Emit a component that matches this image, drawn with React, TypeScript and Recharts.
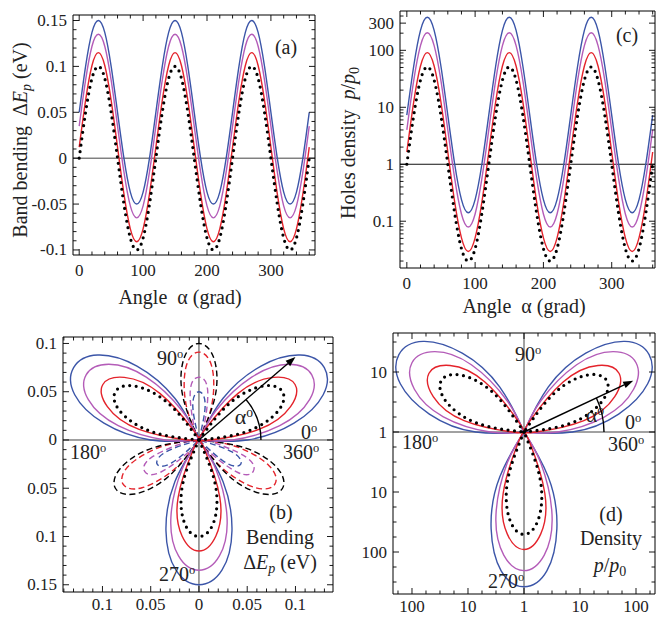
import React from 'react';
import { LineChart, Line, XAxis, YAxis, ReferenceLine } from 'recharts';

// angle alpha in degrees, sampled every 10
const angles = [
  0, 10, 20, 30, 40, 50, 60, 70, 80, 90, 100, 110, 120, 130, 140, 150, 160, 170, 180,
  190, 200, 210, 220, 230, 240, 250, 260, 270, 280, 290, 300, 310, 320, 330, 340, 350, 360,
];

// band bending dEp (eV), panels (a) and (b)
const bendBlue = [
  0.05, 0.1, 0.137, 0.15, 0.137, 0.1, 0.05, 0, -0.037, -0.05, -0.037, 0,
  0.05, 0.1, 0.137, 0.15, 0.137, 0.1, 0.05, 0, -0.037, -0.05, -0.037, 0,
  0.05, 0.1, 0.137, 0.15, 0.137, 0.1, 0.05, 0, -0.037, -0.05, -0.037, 0,
  0.05,
];
const bendMagenta = [
  0.035, 0.085, 0.122, 0.135, 0.122, 0.085, 0.035, -0.015, -0.052, -0.065, -0.052, -0.015,
  0.035, 0.085, 0.122, 0.135, 0.122, 0.085, 0.035, -0.015, -0.052, -0.065, -0.052, -0.015,
  0.035, 0.085, 0.122, 0.135, 0.122, 0.085, 0.035, -0.015, -0.052, -0.065, -0.052, -0.015,
  0.035,
];
const bendRed = [
  0.012, 0.063, 0.101, 0.115, 0.101, 0.063, 0.012, -0.039, -0.077, -0.091, -0.077, -0.039,
  0.012, 0.063, 0.101, 0.115, 0.101, 0.063, 0.012, -0.039, -0.077, -0.091, -0.077, -0.039,
  0.012, 0.063, 0.101, 0.115, 0.101, 0.063, 0.012, -0.039, -0.077, -0.091, -0.077, -0.039,
  0.012,
];
const bendBlack = [
  0, 0.05, 0.087, 0.1, 0.087, 0.05, 0, -0.05, -0.087, -0.1, -0.087, -0.05,
  0, 0.05, 0.087, 0.1, 0.087, 0.05, 0, -0.05, -0.087, -0.1, -0.087, -0.05,
  0, 0.05, 0.087, 0.1, 0.087, 0.05, 0, -0.05, -0.087, -0.1, -0.087, -0.05,
  0,
];

// holes density p/p0, panels (c) and (d)
const densBlue = [
  7.3, 52, 224, 380, 224, 52, 7.3, 1.02, 0.24, 0.141, 0.24, 1.02,
  7.3, 52, 224, 380, 224, 52, 7.3, 1.02, 0.24, 0.141, 0.24, 1.02,
  7.3, 52, 224, 380, 224, 52, 7.3, 1.02, 0.24, 0.141, 0.24, 1.02,
  7.3,
];
const densMagenta = [
  4, 29, 121, 204, 121, 29, 4, 0.57, 0.134, 0.079, 0.134, 0.57,
  4, 29, 121, 204, 121, 29, 4, 0.57, 0.134, 0.079, 0.134, 0.57,
  4, 29, 121, 204, 121, 29, 4, 0.57, 0.134, 0.079, 0.134, 0.57,
  4,
];
const densRed = [
  1.64, 12.2, 53, 91, 53, 12.2, 1.64, 0.22, 0.051, 0.0295, 0.051, 0.22,
  1.64, 12.2, 53, 91, 53, 12.2, 1.64, 0.22, 0.051, 0.0295, 0.051, 0.22,
  1.64, 12.2, 53, 91, 53, 12.2, 1.64, 0.22, 0.051, 0.0295, 0.051, 0.22,
  1.64,
];
const densBlack = [
  1, 7.1, 30, 51, 30, 7.1, 1, 0.14, 0.033, 0.02, 0.033, 0.14,
  1, 7.1, 30, 51, 30, 7.1, 1, 0.14, 0.033, 0.02, 0.033, 0.14,
  1, 7.1, 30, 51, 30, 7.1, 1, 0.14, 0.033, 0.02, 0.033, 0.14,
  1,
];

// labelled ticks
const angleTicks = [0, 100, 200, 300];
const bendTicks = [-0.1, -0.05, 0, 0.05, 0.1, 0.15];
const densTicks = [0.1, 1, 10, 100, 300];
const polarBendTicksX = [-0.1, -0.05, 0, 0.05, 0.1];
const polarBendTicksY = [-0.15, -0.1, -0.05, 0, 0.05, 0.1];
const polarDensTicksX = [-2, -1, 0, 1, 2];
const polarDensTicksY = [-2, -1, 0, 1];

const BLUE = '#3b55a8';
const MAGENTA = '#b45cb8';
const RED = '#e4232b';
const FONT = '"Liberation Serif", "Times New Roman", serif';
const INK = '#222';

const series = [
  { key: 'blue', color: BLUE, bend: bendBlue, dens: densBlue },
  { key: 'magenta', color: MAGENTA, bend: bendMagenta, dens: densMagenta },
  { key: 'red', color: RED, bend: bendRed, dens: densRed },
  { key: 'black', color: '#000', bend: bendBlack, dens: densBlack },
];

const range = (from: number, to: number, step: number) => {
  const out: number[] = [];
  for (let v = from; v <= to + 1e-9; v += step) out.push(Math.round(v * 1e6) / 1e6);
  return out;
};

const logTicks: number[] = [];
for (let k = -2; k <= 2; k++) {
  for (let m = 1; m <= 9; m++) {
    const v = Number((m * 10 ** k).toPrecision(3));
    if (v >= 0.015 && v <= 490) logTicks.push(v);
  }
}

const bendRows = angles.map((a, i) => ({
  a,
  blue: bendBlue[i],
  magenta: bendMagenta[i],
  red: bendRed[i],
  black: bendBlack[i],
}));
const densRows = angles.map((a, i) => ({
  a,
  blue: densBlue[i],
  magenta: densMagenta[i],
  red: densRed[i],
  black: densBlack[i],
}));

type Pt = { x: number; y: number };
type Seg = { neg: boolean | null; pts: Pt[] };

// split a closed curve r(alpha) into lobes of one sign, drawn as |r| in polar form
const polarSegments = (values: number[]): Seg[] => {
  const segs: Seg[] = [];
  let cur: Seg | null = null;
  values.forEach((v, i) => {
    const a = (angles[i] * Math.PI) / 180;
    const r = Math.abs(v);
    const pt = { x: r * Math.cos(a), y: r * Math.sin(a) };
    if (Math.abs(v) < 1e-12) {
      if (cur) cur.pts.push(pt);
      cur = { neg: null, pts: [pt] };
      return;
    }
    const neg = v < 0;
    if (cur && cur.neg === null) {
      cur.neg = neg;
      segs.push(cur);
    } else if (!cur) {
      cur = { neg, pts: [] };
      segs.push(cur);
    } else if (cur.neg !== neg) {
      cur.pts.push({ x: 0, y: 0 });
      cur = { neg, pts: [{ x: 0, y: 0 }] };
      segs.push(cur);
    }
    cur.pts.push(pt);
  });
  // join the lobe that runs through 360/0
  if (segs.length > 1 && Math.abs(values[0]) > 1e-12) {
    const first = segs[0];
    const last = segs[segs.length - 1];
    if (first.neg === last.neg) {
      last.pts = last.pts.concat(first.pts.slice(1));
      segs.shift();
    }
  }
  return segs;
};

const near = (list: number[], v: number) => list.some((m) => Math.abs(m - v) < 1e-9);

type Side = 'bottom' | 'top' | 'left' | 'right';
const frameTick =
  (side: Side, majors: number[], fmt?: (v: number) => string, gap = 21) =>
  (props: any) => {
    const { x, y, payload } = props;
    const v = payload.value;
    const major = near(majors, v);
    const len = major ? 6 : 3.5;
    const s = { stroke: '#000', strokeWidth: 0.9 };
    const label = (tx: number, ty: number, anchor: 'middle' | 'end') =>
      major && fmt ? (
        <text x={tx} y={ty} textAnchor={anchor} fontSize={17} fontFamily={FONT} fill={INK}>
          {fmt(v)}
        </text>
      ) : null;
    if (side === 'bottom')
      return (
        <g>
          <line x1={x} y1={y} x2={x} y2={y - len} {...s} />
          {label(x, y + gap, 'middle')}
        </g>
      );
    if (side === 'top')
      return (
        <g>
          <line x1={x} y1={y} x2={x} y2={y + len} {...s} />
        </g>
      );
    if (side === 'left')
      return (
        <g>
          <line x1={x} y1={y} x2={x + len} y2={y} {...s} />
          {label(x - 6, y + 5.5, 'end')}
        </g>
      );
    return (
      <g>
        <line x1={x} y1={y} x2={x - len} y2={y} {...s} />
      </g>
    );
  };

// axes get a 1px box (a 0px box is not drawn by recharts)
const axisBase = {
  type: 'number' as const,
  interval: 0 as const,
  tickLine: false,
  tickSize: 0,
  tickMargin: 0,
  allowDataOverflow: true,
  axisLine: { stroke: '#000', strokeWidth: 1 },
};

const arrowShape = (arcR: number) => (p: any) => {
  const { x1, y1, x2, y2 } = p;
  const ang = Math.atan2(y1 - y2, x2 - x1);
  const ux = Math.cos(ang);
  const uy = -Math.sin(ang);
  const head = 10;
  const half = 3.5;
  const bx = x2 - ux * head;
  const by = y2 - uy * head;
  const px = -uy;
  const py = ux;
  return (
    <g>
      <line x1={x1} y1={y1} x2={bx} y2={by} stroke="#000" strokeWidth={1.4} />
      <polygon
        points={`${x2},${y2} ${bx + px * half},${by + py * half} ${bx - px * half},${by - py * half}`}
        fill="#000"
      />
      <path
        d={`M ${x1 + arcR} ${y1} A ${arcR} ${arcR} 0 0 0 ${x1 + arcR * Math.cos(ang)} ${y1 - arcR * Math.sin(ang)}`}
        fill="none"
        stroke="#000"
        strokeWidth={1.4}
      />
    </g>
  );
};

const lineStyle = (color: string, dashed = false) =>
  color === '#000'
    ? { stroke: '#000', strokeWidth: dashed ? 1.4 : 3.2, strokeDasharray: dashed ? '6 3.5' : '0 6.5', strokeLinecap: dashed ? ('butt' as const) : ('round' as const) }
    : { stroke: color, strokeWidth: 1.4, strokeDasharray: dashed ? '6 3.5' : undefined };

const Deg = () => (
  <span style={{ fontSize: '0.62em', position: 'relative', top: '-0.55em' }}>o</span>
);
const Sub = ({ children }: { children: React.ReactNode }) => (
  <span style={{ fontSize: '0.7em', position: 'relative', top: '0.3em' }}>{children}</span>
);

const Note = ({
  x,
  y,
  size = 20,
  rotate,
  children,
}: {
  x: number;
  y: number;
  size?: number;
  rotate?: number;
  children: React.ReactNode;
}) => (
  <div
    style={{
      position: 'absolute',
      left: x,
      top: y,
      transform: `translate(-50%, -50%)${rotate ? ` rotate(${rotate}deg)` : ''}`,
      fontFamily: FONT,
      fontSize: size,
      lineHeight: 1,
      whiteSpace: 'pre',
      color: INK,
    }}
  >
    {children}
  </div>
);

const pos = (left: number, top: number): React.CSSProperties => ({ position: 'absolute', left, top });

const BendPanel = () => (
  <div style={pos(0, 0)}>
    <LineChart width={330} height={320} data={bendRows} margin={{ top: 14, right: 14, bottom: 64, left: 72 }}>
      <XAxis {...axisBase} xAxisId="b" dataKey="a" domain={[-9.7, 369]} height={1} ticks={range(0, 360, 20)} tick={frameTick('bottom', angleTicks, (v) => String(v))} />
      <XAxis {...axisBase} xAxisId="t" orientation="top" dataKey="a" domain={[-9.7, 369]} height={1} ticks={range(0, 360, 20)} tick={frameTick('top', angleTicks)} />
      <YAxis {...axisBase} yAxisId="l" domain={[-0.1055, 0.156]} width={1} ticks={range(-0.1, 0.15, 0.01)} tick={frameTick('left', bendTicks, (v) => String(v))} />
      <YAxis {...axisBase} yAxisId="r" orientation="right" domain={[-0.1055, 0.156]} width={1} ticks={range(-0.1, 0.15, 0.01)} tick={frameTick('right', bendTicks)} />
      <ReferenceLine xAxisId="b" yAxisId="l" y={0} stroke="#444" strokeWidth={1} />
      {series.map((s) => (
        <Line key={s.key} xAxisId="b" yAxisId="l" dataKey={s.key} type="natural" dot={false} activeDot={false} isAnimationActive={false} {...lineStyle(s.color)} />
      ))}
    </LineChart>
  </div>
);

const DensPanel = () => (
  <div style={pos(330, 0)}>
    <LineChart width={326} height={320} data={densRows} margin={{ top: 10, right: 0, bottom: 51, left: 69 }}>
      <XAxis {...axisBase} xAxisId="b" dataKey="a" domain={[-10, 363.4]} height={1} ticks={range(0, 360, 20)} tick={frameTick('bottom', angleTicks, (v) => String(v))} />
      <XAxis {...axisBase} xAxisId="t" orientation="top" dataKey="a" domain={[-10, 363.4]} height={1} ticks={range(0, 360, 20)} tick={frameTick('top', angleTicks)} />
      <YAxis {...axisBase} yAxisId="l" scale="log" domain={[0.0151, 490]} width={1} ticks={logTicks} tick={frameTick('left', densTicks, (v) => String(v))} />
      <YAxis {...axisBase} yAxisId="r" orientation="right" scale="log" domain={[0.0151, 490]} width={1} ticks={logTicks} tick={frameTick('right', densTicks)} />
      <ReferenceLine xAxisId="b" yAxisId="l" y={1} stroke="#111" strokeWidth={1} />
      {series.map((s) => (
        <Line key={s.key} xAxisId="b" yAxisId="l" dataKey={s.key} type="natural" dot={false} activeDot={false} isAnimationActive={false} {...lineStyle(s.color)} />
      ))}
    </LineChart>
  </div>
);

const bendLobes = series.flatMap((s) =>
  polarSegments(s.bend).map((seg, i) => ({ id: `${s.key}-${i}`, color: s.color, neg: !!seg.neg, pts: seg.pts })),
);
const densLobes = series.flatMap((s) =>
  polarSegments(s.dens.map((p) => Math.log10(p)))
    .filter((seg) => !seg.neg)
    .map((seg, i) => ({ id: `${s.key}-${i}`, color: s.color, pts: seg.pts })),
);

const BX: [number, number] = [-0.1409, 0.1389];
const BY: [number, number] = [-0.1575, 0.1067];
const DX: [number, number] = [-2.339, 2.339];
const DY: [number, number] = [-2.7, 1.65];

const PolarBendPanel = () => (
  <div style={pos(0, 320)}>
    <LineChart width={335} height={297} margin={{ top: 16, right: 1, bottom: 24, left: 62 }}>
      <XAxis {...axisBase} xAxisId="b" dataKey="x" domain={BX} height={1} ticks={range(-0.14, 0.13, 0.01)} tick={frameTick('bottom', polarBendTicksX, (v) => String(Math.abs(v)), 18)} />
      <XAxis {...axisBase} xAxisId="t" orientation="top" dataKey="x" domain={BX} height={1} ticks={range(-0.14, 0.13, 0.01)} tick={frameTick('top', polarBendTicksX)} />
      <YAxis {...axisBase} yAxisId="l" domain={BY} width={1} ticks={range(-0.15, 0.1, 0.01)} tick={frameTick('left', polarBendTicksY, (v) => String(Math.abs(v)))} />
      <YAxis {...axisBase} yAxisId="r" orientation="right" domain={BY} width={1} ticks={range(-0.15, 0.1, 0.01)} tick={frameTick('right', polarBendTicksY)} />
      <ReferenceLine xAxisId="b" yAxisId="l" y={0} stroke="#444" strokeWidth={1} />
      <ReferenceLine xAxisId="b" yAxisId="l" x={0} stroke="#444" strokeWidth={1} />
      {bendLobes
        .filter((l) => l.neg)
        .map((l) => (
          <Line key={l.id} data={l.pts} xAxisId="b" yAxisId="l" dataKey="y" type="natural" dot={false} activeDot={false} isAnimationActive={false} {...lineStyle(l.color, true)} />
        ))}
      {bendLobes
        .filter((l) => !l.neg)
        .map((l) => (
          <Line key={l.id} data={l.pts} xAxisId="b" yAxisId="l" dataKey="y" type="natural" dot={false} activeDot={false} isAnimationActive={false} {...lineStyle(l.color)} />
        ))}
      <ReferenceLine xAxisId="b" yAxisId="l" segment={[{ x: 0, y: 0 }, { x: 0.1, y: 0.086 }]} shape={arrowShape(62)} />
    </LineChart>
  </div>
);

const PolarDensPanel = () => (
  <div style={pos(335, 320)}>
    <LineChart width={321} height={297} margin={{ top: 12, right: 0, bottom: 22, left: 57 }}>
      <XAxis {...axisBase} xAxisId="b" dataKey="x" domain={DX} height={1} ticks={range(-2.25, 2.25, 0.25)} tick={frameTick('bottom', polarDensTicksX, (v) => String(10 ** Math.abs(v)), 18)} />
      <XAxis {...axisBase} xAxisId="t" orientation="top" dataKey="x" domain={DX} height={1} ticks={range(-2.25, 2.25, 0.25)} tick={frameTick('top', polarDensTicksX)} />
      <YAxis {...axisBase} yAxisId="l" domain={DY} width={1} ticks={range(-2.5, 1.5, 0.25)} tick={frameTick('left', polarDensTicksY, (v) => String(10 ** Math.abs(v)))} />
      <YAxis {...axisBase} yAxisId="r" orientation="right" domain={DY} width={1} ticks={range(-2.5, 1.5, 0.25)} tick={frameTick('right', polarDensTicksY)} />
      <ReferenceLine xAxisId="b" yAxisId="l" y={0} stroke="#444" strokeWidth={1} />
      <ReferenceLine xAxisId="b" yAxisId="l" x={0} stroke="#444" strokeWidth={1} />
      {densLobes.map((l) => (
        <Line key={l.id} data={l.pts} xAxisId="b" yAxisId="l" dataKey="y" type="natural" dot={false} activeDot={false} isAnimationActive={false} {...lineStyle(l.color)} />
      ))}
      <ReferenceLine xAxisId="b" yAxisId="l" segment={[{ x: 0, y: 0 }, { x: 1.95, y: 0.855 }]} shape={arrowShape(80)} />
    </LineChart>
  </div>
);

export default function App() {
  return (
    <div style={{ position: 'absolute', left: 0, top: 0, width: 656, height: 617, background: '#fff', overflow: 'hidden' }}>
      <BendPanel />
      <DensPanel />
      <PolarBendPanel />
      <PolarDensPanel />

      {/* panel (a) */}
      <Note x={20} y={140} rotate={-90}>
        {'Band bending  Δ'}
        <i>E</i>
        <Sub>
          <i>p</i>
        </Sub>
        {' (eV)'}
      </Note>
      <Note x={180} y={297}>{'Angle  α (grad)'}</Note>
      <Note x={286} y={47}>(a)</Note>

      {/* panel (c) */}
      <Note x={348} y={143} rotate={-90}>
        {'Holes density  '}
        <i>p</i>/<i>p</i>
        <Sub>0</Sub>
      </Note>
      <Note x={524} y={306}>{'Angle  α (grad)'}</Note>
      <Note x={627} y={35}>(c)</Note>

      {/* panel (b) */}
      <Note x={170} y={358}>
        90<Deg />
      </Note>
      <Note x={88} y={452}>
        180<Deg />
      </Note>
      <Note x={309} y={432}>
        0<Deg />
      </Note>
      <Note x={301} y={452}>
        360<Deg />
      </Note>
      <Note x={244} y={417} size={22}>
        α<Deg />
      </Note>
      <Note x={281} y={512}>(b)</Note>
      <Note x={280} y={537}>Bending</Note>
      <Note x={280} y={562}>
        {'Δ'}
        <i>E</i>
        <Sub>
          <i>p</i>
        </Sub>
        {' (eV)'}
      </Note>
      <Note x={177} y={574}>
        270<Deg />
      </Note>

      {/* panel (d) */}
      <Note x={528} y={354}>
        90<Deg />
      </Note>
      <Note x={420} y={442}>
        180<Deg />
      </Note>
      <Note x={633} y={422}>
        0<Deg />
      </Note>
      <Note x={626} y={444}>
        360<Deg />
      </Note>
      <Note x={595} y={415} size={22}>
        α<Deg />
      </Note>
      <Note x={611} y={514}>(d)</Note>
      <Note x={611} y={538}>Density</Note>
      <Note x={610} y={565}>
        <i>p</i>/<i>p</i>
        <Sub>0</Sub>
      </Note>
      <Note x={506} y={581}>
        270<Deg />
      </Note>
    </div>
  );
}
